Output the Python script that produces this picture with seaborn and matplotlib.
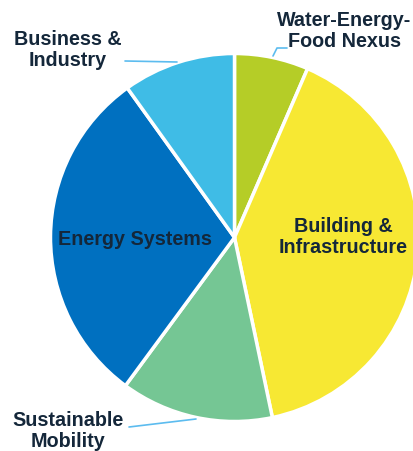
import matplotlib
matplotlib.use('Agg')
import matplotlib.pyplot as plt
import seaborn as sns

# Dados do gráfico (ordem horária a partir do topo)
categorias = ['Water-Energy-\nFood Nexus', 'Building &\nInfrastructure', 'Sustainable\nMobility',
              'Energy Systems', 'Business &\nIndustry']
valores = [6.5, 40.2, 13.4, 30.0, 9.9]
cores = ['#b5cd27', '#f7e833', '#75c694', '#0070c0', '#3fbce6']

texto_escuro = '#14273a'
cor_linha = '#5cbcef'

sns.set_style('white')
plt.rcParams['font.family'] = ['Liberation Sans', 'DejaVu Sans']

fig = plt.figure(figsize=(4.13, 4.52), dpi=100)
ax = fig.add_axes([0, 0, 1, 1])

wedges, _ = ax.pie(valores, colors=cores, startangle=90, counterclock=False,
                   radius=1, wedgeprops=dict(edgecolor='white', linewidth=2.5))

# Centro em (234.5, 238.5) px, raio 184 px
r = 184.0
ax.set_xlim(-234.5 / r, (413 - 234.5) / r)
ax.set_ylim(-(452 - 238.5) / r, 238.5 / r)
ax.set_aspect('equal')
ax.set_axis_off()


def px(x, y):
    # converte pixel da imagem para coordenadas de dados
    return (x - 234.5) / r, (238.5 - y) / r


fs = 14.2
# Rótulos internos
ax.text(*px(135, 240), categorias[3], ha='center', va='center', fontsize=fs,
        fontweight='bold', color=texto_escuro)
ax.text(*px(343, 237), categorias[1], ha='center', va='center', fontsize=fs,
        fontweight='bold', color=texto_escuro, linespacing=1.15)

# Rótulos externos
ax.text(*px(67.5, 50), categorias[4], ha='center', va='center', fontsize=fs,
        fontweight='bold', color=texto_escuro, linespacing=1.1)
ax.text(*px(344, 31), categorias[0], ha='center', va='center', fontsize=fs,
        fontweight='bold', color=texto_escuro, linespacing=1.1)
ax.text(*px(68, 431), categorias[2], ha='center', va='center', fontsize=fs,
        fontweight='bold', color=texto_escuro, linespacing=1.1)

# Linhas de chamada
linhas = [
    [(125, 62), (177, 63)],
    [(273, 57), (277, 49), (287, 49)],
    [(129, 428), (196, 420)],
]
for pts in linhas:
    xs, ys = zip(*[px(x, y) for x, y in pts])
    ax.plot(xs, ys, color=cor_linha, linewidth=1.2)

plt.savefig('out.png', dpi=100)
